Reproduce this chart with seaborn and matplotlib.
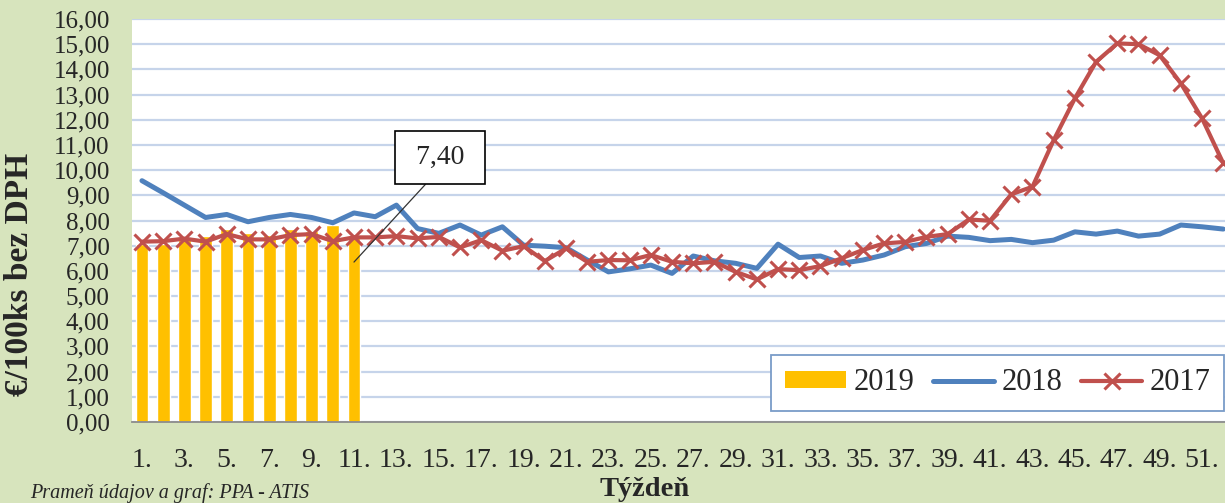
import matplotlib
matplotlib.use("Agg")
import matplotlib.pyplot as plt
from matplotlib.lines import Line2D
from matplotlib.patches import Patch
import pandas as pd
import seaborn as sns

# --- data ---
weeks = list(range(1, 53))

prices_2019 = [7.05, 7.05, 7.25, 7.38, 7.68, 7.51, 7.42, 7.68, 7.60, 7.82, 7.40]

prices_2018 = [9.58, 9.10, 8.61, 8.12, 8.24, 7.95, 8.12, 8.24, 8.12, 7.91,
               8.30, 8.15, 8.61, 7.68, 7.49, 7.82, 7.42, 7.75, 7.02, 6.98,
               6.92, 6.43, 5.96, 6.08, 6.23, 5.90, 6.59, 6.40, 6.30, 6.10,
               7.06, 6.53, 6.59, 6.30, 6.43, 6.63, 6.96, 7.09, 7.38, 7.33,
               7.20, 7.25, 7.12, 7.22, 7.55, 7.46, 7.58, 7.38, 7.46, 7.82,
               7.75, 7.66]

prices_2017 = [7.16, 7.18, 7.28, 7.16, 7.46, 7.25, 7.25, 7.42, 7.46, 7.18,
               7.33, 7.33, 7.38, 7.29, 7.35, 6.93, 7.22, 6.80, 6.98, 6.39,
               6.89, 6.36, 6.43, 6.42, 6.63, 6.36, 6.30, 6.36, 5.96, 5.66,
               6.07, 6.03, 6.19, 6.50, 6.83, 7.09, 7.15, 7.35, 7.46, 8.04,
               7.99, 9.04, 9.34, 11.19, 12.85, 14.30, 15.03, 15.00, 14.56, 13.44,
               12.05, 10.27]

label_week = 11
label_text = "7,40"

yticks = list(range(0, 17))
xtick_weeks = list(range(1, 53, 2))

# --- colours ---
BG = "#d7e4bd"
C2019 = "#ffc000"
C2018 = "#4f81bd"
C2017 = "#c0504d"
GRID = "#c6d4ea"

sns.set_style("white")
plt.rcParams["font.family"] = ["Liberation Serif", "DejaVu Serif"]

fig = plt.figure(figsize=(12.25, 5.03), dpi=100, facecolor=BG)
ax = fig.add_axes([132 / 1225, 1 - 422 / 503, 1 - 132 / 1225, (422 - 19) / 503])
ax.set_facecolor("white")

df19 = pd.DataFrame({"week": weeks[:len(prices_2019)], "price": prices_2019})
df18 = pd.DataFrame({"week": weeks, "price": prices_2018})
df17 = pd.DataFrame({"week": weeks, "price": prices_2017})

ax.set_axisbelow(True)
ax.grid(axis="y", color=GRID, linewidth=1.6)

sns.barplot(data=df19, x="week", y="price", native_scale=True, color=C2019,
            width=0.6, saturation=1, ax=ax, zorder=2)
sns.lineplot(data=df18, x="week", y="price", color=C2018, linewidth=3.6,
             ax=ax, zorder=3)
sns.lineplot(data=df17, x="week", y="price", color=C2017, linewidth=3.0,
             marker="x", markersize=11, markeredgewidth=2.2,
             markeredgecolor=C2017, ax=ax, zorder=4)

ax.set_xlim(0.53, 52.08)
ax.set_ylim(0, 16)
ax.set_yticks(yticks)
ax.set_yticklabels([f"{v:.2f}".replace(".", ",") for v in yticks], fontsize=18)
ax.set_xticks(xtick_weeks)
ax.set_xticklabels([f"{w}." for w in xtick_weeks], fontsize=20)
ax.tick_params(axis="both", length=0)
ax.tick_params(axis="x", pad=19)
ax.tick_params(axis="y", pad=16)
ax.set_xlabel("")
ax.set_ylabel("")

for side in ["top", "right", "left"]:
    ax.spines[side].set_visible(False)
ax.spines["bottom"].set_color("#8c8c8c")
ax.spines["bottom"].set_linewidth(1.3)

# data label for the last 2019 bar
ax.annotate(f" {label_text} ",
            xy=(label_week, prices_2019[label_week - 1] - 1.05),
            xytext=(label_week + 4.05, 10.5),
            fontsize=20, ha="center", va="center", zorder=6,
            bbox=dict(boxstyle="square,pad=0.5", fc="white", ec="black", lw=1.2),
            arrowprops=dict(arrowstyle="-", color="#333333", lw=0.9,
                            shrinkA=0, shrinkB=0, relpos=(0.48, 0)))

handles = [
    Patch(facecolor=C2019, edgecolor="none"),
    Line2D([], [], color=C2018, linewidth=3.6),
    Line2D([], [], color=C2017, linewidth=3.0, marker="x", markersize=11,
           markeredgewidth=2.2),
]
leg = ax.legend(handles, ["2019", "2018", "2017"], ncol=3, loc="lower right",
                bbox_to_anchor=(0.9995, 0.027), borderaxespad=0, fontsize=22,
                frameon=True, fancybox=False, handlelength=2.0, handleheight=0.5,
                columnspacing=0.6, handletextpad=0.25, borderpad=0.45)
leg.get_frame().set_edgecolor("#7a9cc8")
leg.get_frame().set_linewidth(1.3)
leg.get_frame().set_alpha(1)

fig.text(20 / 1225, 1 - 274 / 503, "€/100ks bez DPH", rotation=90,
         ha="center", va="center", fontsize=24, fontweight="bold")
fig.text(645 / 1225, 1 - 490 / 503, "Týždeň", ha="center", va="center",
         fontsize=20.5, fontweight="bold")
fig.text(30 / 1225, 1 - 493 / 503, "Prameň údajov a graf: PPA - ATIS",
         ha="left", va="center", fontsize=14.5, style="italic")

fig.savefig("out.png", dpi=100, facecolor=BG)
plt.close(fig)
